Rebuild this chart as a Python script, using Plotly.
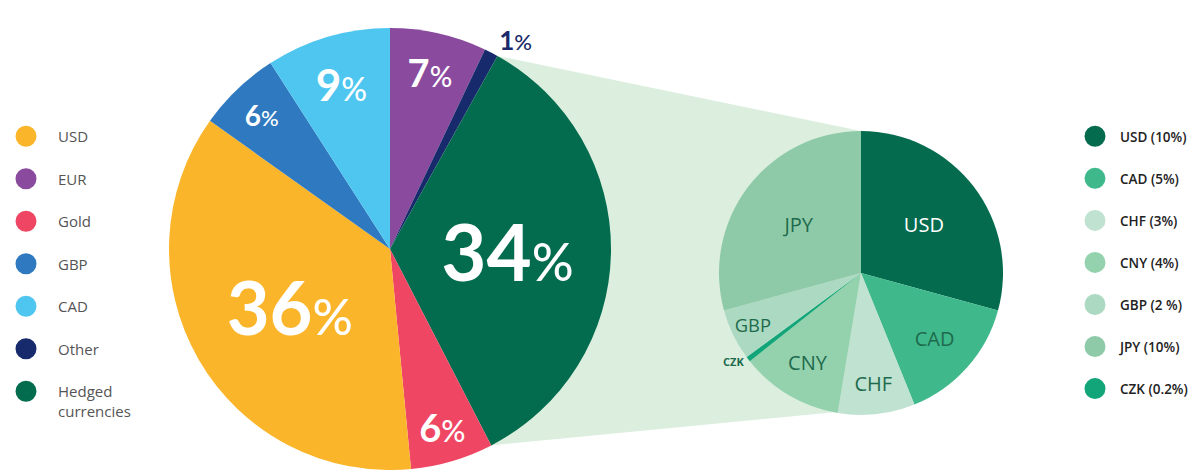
import math
import plotly.graph_objects as go

# ---------------- data ----------------
main_labels = ["USD", "EUR", "Gold", "GBP", "CAD", "Other", "Hedged currencies"]
main_shares = [36, 7, 6, 6, 9, 1, 34]
main_colors = ["#fbb52b", "#8a4b9e", "#ef4664", "#2e79c0", "#4ec6f0", "#172a6b", "#036b4e"]
main_legend_names = ["USD", "EUR", "Gold", "GBP", "CAD", "Other", "Hedged<br>currencies"]
# clockwise from 12 o'clock
main_slice_order = ["EUR", "Other", "Hedged currencies", "Gold", "USD", "GBP", "CAD"]

hedged_labels = ["USD", "CAD", "CHF", "CNY", "GBP", "JPY", "CZK"]
hedged_shares = [10, 5, 3, 4, 2, 10, 0.2]
hedged_colors = ["#046b4e", "#3fb98b", "#c0e2d1", "#94d2ae", "#acd9c2", "#8fcaa8", "#12a57a"]
hedged_legend_names = ["USD (10%)", "CAD (5%)", "CHF (3%)", "CNY (4%)", "GBP (2 %)", "JPY (10%)", "CZK (0.2%)"]
# clockwise from 12 o'clock
hedged_slice_order = ["USD", "CAD", "CHF", "CNY", "CZK", "GBP", "JPY"]

# ---------------- styling / layout ----------------
OFF = 8                      # page body margin
W, H = 1198, 470             # visible window
FW, FH = W - OFF, H - OFF    # figure size
MT = 28                      # top of plotting area (screen px)
PH = H - MT

main_num_size = {"USD": 74, "EUR": 38, "Gold": 38, "GBP": 28, "CAD": 44, "Other": 26, "Hedged currencies": 78}
main_pct_size = {"USD": 50, "EUR": 28, "Gold": 30, "GBP": 22, "CAD": 32, "Other": 22, "Hedged currencies": 52}


def px_to_paper(x, y):
    return (x - OFF) / FW, 1 - (y - MT) / PH


# big pie geometry (screen px)
cx1, r1 = 390, PH / 2
cy1 = MT + PH / 2
# small pie geometry (screen px)
cx2, cy2, r2 = 861, 273, 142

fig = go.Figure()

mi = [main_labels.index(l) for l in main_slice_order]
fig.add_trace(go.Pie(
    labels=[main_labels[i] for i in mi],
    values=[main_shares[i] for i in mi],
    marker=dict(colors=[main_colors[i] for i in mi], line=dict(width=0)),
    text=[f"{main_shares[i]}<span style='font-size:{main_pct_size[main_labels[i]]}px;font-weight:500'>%</span>"
          for i in mi],
    textinfo="text",
    texttemplate="%{text}",
    textposition=["outside" if main_labels[i] == "Other" else "inside" for i in mi],
    insidetextorientation="horizontal",
    insidetextfont=dict(family="Lato", color="white", size=[main_num_size[main_labels[i]] for i in mi], weight=700),
    outsidetextfont=dict(family="Lato", color="#1b2a6b", size=26, weight=700),
    sort=False, direction="clockwise", rotation=0,
    domain=dict(x=[px_to_paper(cx1 - r1, 0)[0], px_to_paper(cx1 + r1, 0)[0]], y=[0, 1]),
    showlegend=False, hoverinfo="skip",
))

hi = [hedged_labels.index(l) for l in hedged_slice_order]
fig.add_trace(go.Pie(
    labels=[hedged_labels[i] for i in hi],
    values=[hedged_shares[i] for i in hi],
    marker=dict(colors=[hedged_colors[i] for i in hi], line=dict(width=0)),
    text=[hedged_labels[i] for i in hi],
    textinfo="text",
    texttemplate="%{text}",
    textposition=["outside" if hedged_labels[i] == "CZK" else "inside" for i in hi],
    insidetextorientation="horizontal",
    insidetextfont=dict(family="Open Sans", size=20,
                        color=["white" if hedged_labels[i] == "USD" else "#1e6a4c" for i in hi]),
    outsidetextfont=dict(family="Open Sans", size=11, color="#1e6a4c", weight=700),
    sort=False, direction="clockwise", rotation=0,
    domain=dict(x=[px_to_paper(cx2 - r2, 0)[0], px_to_paper(cx2 + r2, 0)[0]],
                y=[px_to_paper(0, cy2 + r2)[1], px_to_paper(0, cy2 - r2)[1]]),
    showlegend=False, hoverinfo="skip",
))

# connector wedge from the hedged slice to the breakdown pie
tot1 = sum(main_shares)
start = sum(main_shares[main_labels.index(l)] for l in main_slice_order[:main_slice_order.index("Hedged currencies")])
a1 = start / tot1 * 2 * math.pi
a2 = (start + main_shares[main_labels.index("Hedged currencies")]) / tot1 * 2 * math.pi
tot2 = sum(hedged_shares)
b2 = (hedged_shares[0] + hedged_shares[1]) / tot2 * 2 * math.pi
pts = [
    (cx1 + r1 * math.sin(a1), cy1 - r1 * math.cos(a1)),
    (cx2, cy2 - r2),
    (cx2 + r2 * math.sin(b2), cy2 - r2 * math.cos(b2)),
    (cx1 + r1 * math.sin(a2), cy1 - r1 * math.cos(a2)),
]
pp = [px_to_paper(x, y) for x, y in pts]
path = "M " + " L ".join(f"{x:.4f},{y:.4f}" for x, y in pp) + " Z"
fig.add_shape(type="path", path=path, xref="paper", yref="paper",
              fillcolor="#dcefdf", line=dict(width=0), layer="below")

# legends
for name, col in zip(main_legend_names, main_colors):
    fig.add_trace(go.Scatter(x=[None], y=[None], mode="markers", name=name, legendgroup="m" + name,
                             marker=dict(size=16, color=col, line=dict(width=5, color=col)),
                             legend="legend", hoverinfo="skip"))
for name, col in zip(hedged_legend_names, hedged_colors):
    fig.add_trace(go.Scatter(x=[None], y=[None], mode="markers", name=name, legendgroup="h" + name,
                             marker=dict(size=16, color=col, line=dict(width=5, color=col)),
                             legend="legend2", hoverinfo="skip"))

L_IW, R_IW = 54, 40
lx, ly = px_to_paper(26 - (L_IW + 10) / 2, 120)
rx, ry = px_to_paper(1095 - (R_IW + 10) / 2, 121)
fig.update_layout(
    width=FW, height=FH, autosize=False,
    margin=dict(l=0, r=0, t=MT - OFF, b=0, autoexpand=False),
    paper_bgcolor="white", plot_bgcolor="white",
    xaxis=dict(visible=False), yaxis=dict(visible=False),
    legend=dict(x=lx, y=ly, xanchor="left", yanchor="top", traceorder="grouped",
                tracegroupgap=20, valign="top", itemwidth=L_IW, bgcolor="rgba(0,0,0,0)",
                font=dict(family="Open Sans", size=15, color="#555555")),
    legend2=dict(x=rx, y=ry, xanchor="left", yanchor="top", traceorder="grouped",
                 tracegroupgap=21.5, valign="top", itemwidth=R_IW, bgcolor="rgba(0,0,0,0)",
                 font=dict(family="Open Sans", size=13.5, color="#222222", weight=600)),
)

fig.write_html("out.html")
